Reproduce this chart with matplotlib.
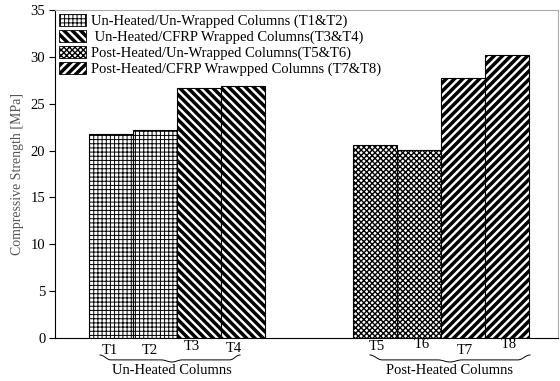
import numpy as np
import matplotlib
matplotlib.use('Agg')
import matplotlib.pyplot as plt
from matplotlib.patches import Patch
import matplotlib.transforms as mtransforms

plt.rcParams['font.family'] = ['Liberation Serif', 'DejaVu Serif']

# data
labels = ['T1', 'T2', 'T3', 'T4', 'T5', 'T6', 'T7', 'T8']
strength = [21.8, 22.2, 26.7, 26.9, 20.6, 20.1, 27.7, 30.2]
groups = ['Un-Heated Columns', 'Post-Heated Columns']
legend_labels = ['Un-Heated/Un-Wrapped Columns (T1&T2)',
                 ' Un-Heated/CFRP Wrapped Columns(T3&T4)',
                 'Post-Heated/Un-Wrapped Columns(T5&T6)',
                 'Post-Heated/CFRP Wrawpped Columns (T7&T8)']

# styling / layout
W, H = 560, 381
ax_l, ax_r, ax_b, ax_t = 55, 558, 338, 10
bw = 44.0                       # bar width in px -> 1 data unit
positions = [1.27, 2.27, 3.27, 4.27, 7.28, 8.28, 9.28, 10.28]
hatches = ['++++', '++++', '\\\\\\\\', '\\\\\\\\', 'xxxxxx', 'xxxxxx', '////', '////']
hatch_lw = [0.7, 0.7, 2.5, 2.5, 1.0, 1.0, 2.5, 2.5]
style_idx = [0, 0, 1, 1, 2, 2, 3, 3]
lab_dx = [-1, -5, -7, -9, 2, 2, 1, 1]       # px offsets of tick texts
lab_y = [350, 350, 347, 349, 347, 345, 351, 345]

fig = plt.figure(figsize=(W / 100, H / 100), dpi=100)
ax = fig.add_axes([ax_l / W, (H - ax_b) / H, (ax_r - ax_l) / W, (ax_b - ax_t) / H])

bars = ax.bar(positions, strength, width=1.0, color='white', edgecolor='black',
              linewidth=0.8)
for b, h, lw in zip(bars, hatches, hatch_lw):
    b.set_hatch(h)
    if hasattr(b, 'set_hatch_linewidth'):
        b.set_hatch_linewidth(lw)

ax.set_xlim(0, (ax_r - ax_l) / bw)
ax.set_ylim(0, 35)
ax.set_yticks(np.arange(0, 36, 5))
ax.set_xticks([])
ax.tick_params(axis='y', direction='out', length=4, labelsize=10.5, pad=3)
ax.set_ylabel('Compressive Strength [MPa]', fontsize=10, color='#555555', labelpad=5)
for s in ['top', 'right']:
    ax.spines[s].set_color('#aaaaaa')
    ax.spines[s].set_linewidth(0.8)
ax.spines['left'].set_linewidth(0.8)
ax.spines['bottom'].set_linewidth(0.8)

# legend
handles = []
leg_lw = []
for k in range(4):
    i = style_idx.index(k)
    handles.append(Patch(facecolor='white', edgecolor='black', hatch=hatches[i],
                         linewidth=0.6))
    leg_lw.append(hatch_lw[i])
leg = ax.legend(handles, legend_labels, loc='upper left', frameon=False, fontsize=10.5,
                handlelength=1.8, handleheight=0.8, handletextpad=0.4, labelspacing=0.15,
                borderaxespad=0.1, borderpad=0.2)
for p, lw in zip(leg.get_patches(), leg_lw):
    if hasattr(p, 'set_hatch_linewidth'):
        p.set_hatch_linewidth(lw)

# tick texts under bars (pixel y -> axes fraction)
trans = mtransforms.blended_transform_factory(ax.transData, ax.transAxes)
def ay(py):
    return (ax_b - py) / (ax_b - ax_t)

for x, lab, dx, py in zip(positions, labels, lab_dx, lab_y):
    ax.text(x + dx / bw, ay(py), lab, transform=trans, ha='center', va='center',
            fontsize=10.5, clip_on=False)

# braces
def brace(x0, x1, xm, y_top, depth):
    t = np.linspace(0, 1, 60)
    xs_l = x0 + (xm - x0) * t
    xs_r = xm + (x1 - xm) * t
    def prof(u):
        return depth * (0.5 * (1 - np.cos(np.pi * np.clip(u / 0.15, 0, 1)))
                        * 0.7 + 0.3 * (0.5 * (1 - np.cos(np.pi * np.clip((u - 0.85) / 0.15, 0, 1)))))
    yl = y_top - prof(t)
    yr = y_top - prof(1 - t)
    return np.concatenate([xs_l, xs_r]), np.concatenate([yl, yr])

brace_px = [(100, 240, 172), (370, 530, 450)]
for (p0, p1, pm), g in zip(brace_px, groups):
    bx, by = brace((p0 - ax_l) / bw, (p1 - ax_l) / bw, (pm - ax_l) / bw, ay(355), 7 / 328)
    ax.plot(bx, by, color='black', lw=0.7, transform=trans, clip_on=False)
    ax.text((pm - ax_l) / bw, ay(371), g, transform=trans, ha='center', va='center',
            fontsize=10.5, clip_on=False)

fig.savefig('out.png', dpi=100)
